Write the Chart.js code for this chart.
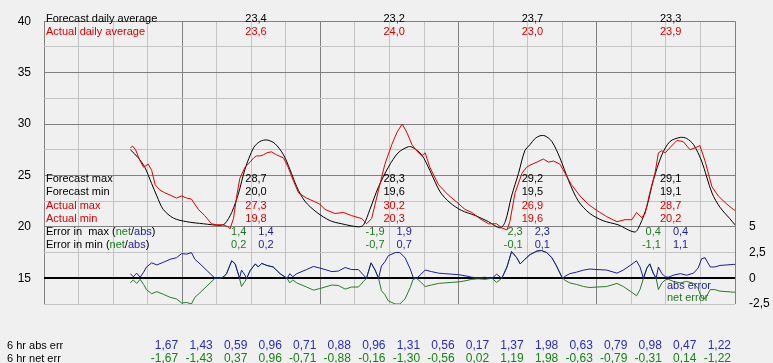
<!DOCTYPE html>
<html>
<head>
<meta charset="utf-8">
<script src="https://cdn.jsdelivr.net/npm/chart.js@4.4.1/dist/chart.umd.min.js"></script>
<style>
    body { margin: 0; background: #f0f0f0; }
    canvas { display: block; }
</style>
</head>
<body>
<canvas id="chart" width="773" height="363"></canvas>
<script>
// Forecast vs actual temperature, hours from start of day 1
const forecastHours = [15, 16.4, 17.5, 18.7, 19.6, 20.7, 22.5, 24.8, 27.7, 30.6, 31.4, 32.6, 33.8, 34.9, 36.4, 37.5, 38.7, 40.1, 41.6, 42.7, 43.9, 45.3, 47.4, 49.7,
    51.7, 54.6, 55.5, 56.6, 58.1, 59.8, 61.5, 63.3, 64.1, 65.6, 67, 68.8, 70.5, 72.5, 74.9, 77.2, 79.2, 80.1, 81.2, 82.4, 83.5, 84.4,
    85.3, 86.1, 87, 88.2, 89.6, 91.1, 92.8, 94.8, 97.1, 99.7, 102.6, 103.5, 104.7, 105.8, 107.3, 108.7, 110.5, 111.6, 112.8, 114.2, 116, 117.4, 119.1, 120];
const forecastTemps = [27.5, 26.7, 25.8, 24.2, 23.0, 21.7, 20.85, 20.5, 20.3, 20.15, 20.3, 21.4, 23.3, 25.6, 27.7, 28.3, 28.45, 28.1, 27.0, 25.6, 23.9, 22.5, 21.4, 20.6,
    20.3, 20.0, 20.2, 21.7, 23.9, 25.8, 27.2, 27.8, 27.7, 27.0, 25.5, 23.4, 22.35, 21.6, 21.1, 20.5, 19.9, 20.5, 23.0, 25.2, 27.4, 28.0,
    28.6, 28.85, 28.85, 28.3, 26.7, 24.5, 22.5, 21.3, 20.6, 20.2, 19.5, 20.2, 22.0, 24.5, 27.0, 28.3, 28.7, 28.6, 28.0, 26.4, 23.3, 21.9, 20.8, 20.2];

const actualHours = [15, 15.4, 15.9, 16.7, 17.3, 18.1, 18.7, 19.3, 20.1, 21, 21.9, 23, 23.9, 24.8, 25.6, 26.8, 27.9, 29.1, 30, 31.1, 32, 32.3, 32.9, 33.5, 34, 34.9,
    35.8, 36.4, 36.9, 37.5, 38.1, 38.7, 39.5, 40.4, 41.6, 42.4, 43.3, 44.2, 45.6, 46.8, 47.9, 48.8, 50.5, 52, 53.4, 55.2, 56, 56.9, 58.1, 59.2,
    60.4, 61.3, 62.2, 63, 63.9, 64.7, 65.6, 66.2, 67, 68.5, 70.2, 71.7, 73.1, 74.3, 75.7, 77.2, 78.6, 79.5, 80.4, 80.9, 81.8, 83, 83.8, 84.4,
    85.6, 86.7, 87.6, 88.5, 89.6, 90.5, 91.6, 93.1, 94.5, 96, 97.7, 99.5, 100.9, 102.1, 102.9, 103.8, 104.4, 105.2, 106.1, 106.7, 107.3, 107.9,
    108.7, 109.9, 111, 112.2, 113.1, 113.9, 114.8, 116, 117.1, 118.6, 119.7, 120];
const actualTemps = [27.7, 27.85, 27.5, 26.4, 25.8, 26.1, 25.5, 24.1, 23.6, 23.3, 23.1, 22.8, 23.0, 22.8, 22.7, 21.7, 21.1, 20.3, 20.2, 20.2, 20.0, 19.8, 20.8, 23.1, 24.7, 25.8,
    26.3, 26.7, 26.9, 26.9, 27.0, 27.2, 27.3, 27.0, 26.7, 25.8, 24.5, 23.3, 22.8, 22.5, 22.2, 21.7, 21.3, 21.4, 21.1, 20.8, 20.3, 20.8, 23.6, 26.1,
    28.0, 29.2, 30.0, 29.2, 28.0, 27.4, 26.9, 27.2, 25.8, 24.1, 23.1, 22.4, 21.7, 21.4, 20.8, 20.3, 20.3, 19.9, 19.7, 20.5, 23.3, 25.2, 25.8, 26.0,
    26.3, 26.6, 26.3, 26.4, 26.1, 25.2, 24.1, 23.0, 22.2, 21.6, 21.0, 20.5, 20.7, 20.7, 21.4, 20.9, 21.3, 23.3, 25.2, 27.2, 27.4, 27.2,
    27.7, 28.4, 28.3, 27.5, 27.7, 27.9, 26.4, 23.9, 23.0, 22.2, 21.7, 21.6];

// Error curves (right axis)
const errHours = [15, 15.5, 16.1, 16.7, 17.3, 17.8, 18.7, 19.6, 20.7, 21.9, 23, 23.9, 24.8, 25.6, 26.2, 27.1, 28.3, 29.7, 30.6, 31.2, 31.7, 32.6, 33.2, 33.8, 33.95, 34.3,
    34.9, 35.2, 35.8, 36.7, 37.2, 37.8, 38.7, 39.8, 41, 42.2, 42.7, 43.2, 43.9, 45.6, 46.8, 47.9, 48.8, 50, 51.1, 52.3, 53.4, 54.6, 55.5, 56, 56.8,
    57.5, 58.1, 58.6, 59.2, 59.8, 61, 61.8, 62.7, 63.6, 64.1, 64.7, 65.3, 66.2, 67.3, 68.5, 69.6, 70.8, 72, 73.1, 74.3, 75.4, 76.6, 77.8, 78.6, 79.5,
    80.4, 81.2, 82.1, 82.7, 83.5, 84.4, 85.6, 86.4, 87.3, 88.2, 89, 89.9, 90.1, 90.5, 91.3, 92.5, 93.7, 94.8, 96, 97.7, 99.5, 100.6, 101.8, 102.9,
    103.5, 104.1, 104.7, 105.2, 105.8, 106.3, 106.7, 107.3, 107.9, 108.4, 109.3, 110.5, 111.6, 112.8, 113.6, 114.2, 114.8, 115.7, 116.5, 117.4, 118.6, 119.7, 120];
const netErr = [-0.45, -0.15, -0.5, -0.1, -0.6, -1.1, -1.5, -1.3, -1.55, -1.85, -2.0, -2.4, -2.35, -2.5, -1.85, -1.4, -0.75, 0, 0, 0.15, 0.45, 1.7, 1.4, 0.3, 0, -0.8,
    -0.3, 0, 0.75, 1.4, 1.1, 1.45, 1.25, 1.1, 0.45, 0, -0.45, -0.15, -0.45, -0.85, -1.15, -1.0, -0.85, -0.65, -0.7, -1.05, -0.85, -0.85, -0.3, 0, 1.5,
    0.8, 0, -1.2, -1.6, -2.2, -2.5, -2.5, -2.0, -0.9, -0.1, 0, -0.3, -0.8, -0.65, -0.5, -0.45, -0.4, -0.35, -0.25, -0.1, -0.05, -0.1, 0, -0.4, 0,
    1.1, 2.6, 2.0, 1.4, 1.85, 2.3, 2.65, 2.7, 2.5, 2.0, 1.2, 0.15, 0, -0.2, -0.45, -0.6, -0.8, -0.9, -0.85, -0.8, -0.5, -0.8, -1.25, -1.7,
    -1.1, 0, 1.0, 1.4, 0.5, 0, -1.1, -0.45, -0.15, -0.1, -0.3, -0.45, -0.3, -0.5, -1.0, -1.9, -2.0, -1.1, -1.1, -1.25, -1.3, -1.35, -1.35];
const absErr = [0.45, 0.15, 0.5, 0.1, 0.6, 1.1, 1.5, 1.3, 1.55, 1.85, 2.0, 2.4, 2.35, 2.5, 1.85, 1.4, 0.75, 0, 0, 0.15, 0.45, 1.7, 1.4, 0.3, 0, 0.8,
    0.3, 0, 0.75, 1.4, 1.1, 1.45, 1.25, 1.1, 0.45, 0, 0.45, 0.15, 0.45, 0.85, 1.15, 1.0, 0.85, 0.65, 0.7, 1.05, 0.85, 0.85, 0.3, 0, 1.5,
    0.8, 0, 1.2, 1.6, 2.2, 2.5, 2.5, 2.0, 0.9, 0.1, 0, 0.3, 0.8, 0.65, 0.5, 0.45, 0.4, 0.35, 0.25, 0.1, 0.05, 0.1, 0, 0.4, 0,
    1.1, 2.6, 2.0, 1.4, 1.85, 2.3, 2.65, 2.7, 2.5, 2.0, 1.2, 0.15, 0, 0.2, 0.45, 0.6, 0.8, 0.9, 0.85, 0.8, 0.5, 0.8, 1.25, 1.7,
    1.1, 0, 1.0, 1.4, 0.5, 0, 1.1, 0.45, 0.15, 0.1, 0.3, 0.45, 0.3, 0.5, 1.0, 1.9, 2.0, 1.1, 1.1, 1.25, 1.3, 1.35, 1.35];

// Daily summary (one column per day, placed at noon)
const dayNoon = [36, 60, 84, 108];
const forecastAvg = [23.4, 23.2, 23.7, 23.3];
const actualAvg = [23.6, 24.0, 23.0, 23.9];
const forecastMax = [28.7, 28.3, 29.2, 29.1];
const forecastMin = [20.0, 19.6, 19.5, 19.1];
const actualMax = [27.3, 30.2, 26.9, 28.7];
const actualMin = [19.8, 20.3, 19.6, 20.2];
const maxErrNet = [1.4, -1.9, 2.3, 0.4];
const maxErrAbs = [1.4, 1.9, 2.3, 0.4];
const minErrNet = [0.2, -0.7, -0.1, -1.1];
const minErrAbs = [0.2, 0.7, 0.1, 1.1];

// 6 hour error table
const sixHourEnds = [24, 30, 36, 42, 48, 54, 60, 66, 72, 78, 84, 90, 96, 102, 108, 114, 120];
const sixHourAbs = [1.67, 1.43, 0.59, 0.96, 0.71, 0.88, 0.96, 1.31, 0.56, 0.17, 1.37, 1.98, 0.63, 0.79, 0.98, 0.47, 1.22];
const sixHourNet = [-1.67, -1.43, 0.37, 0.96, -0.71, -0.88, -0.16, -1.30, -0.56, 0.02, 1.19, 1.98, -0.63, -0.79, -0.31, 0.14, -1.22];

const RED = '#d80000';
const BLUE = '#1c1ca8';
const GREEN = '#1e7a1e';
const FONT = '"Liberation Sans", Arial, sans-serif';

function fmt(v, d) {
    return v.toFixed(d).replace('.', ',');
}

function points(xs, ys) {
    return xs.map((x, i) => ({ x: x, y: ys[i] }));
}

// draws a string made of coloured pieces
function drawParts(ctx, parts, x, y) {
    parts.forEach(p => {
        ctx.fillStyle = p[1];
        ctx.fillText(p[0], x, y);
        x += ctx.measureText(p[0]).width;
    });
}

const textPlugin = {
    id: 'textPlugin',
    afterDatasetsDraw(chart) {
        const ctx = chart.ctx;
        const xs = chart.scales.x;
        ctx.save();
        ctx.textBaseline = 'alphabetic';
        ctx.font = '11px ' + FONT;

        // header rows
        ctx.textAlign = 'left';
        ctx.fillStyle = '#000';
        ctx.fillText('Forecast daily average', 46, 21.5);
        ctx.fillStyle = RED;
        ctx.fillText('Actual daily average', 46, 34.5);

        // daily block labels
        const rows = [182, 195, 208.5, 221.5, 234.5, 247.5];
        ctx.fillStyle = '#000';
        ctx.fillText('Forecast max', 46, rows[0]);
        ctx.fillText('Forecast min', 46, rows[1]);
        ctx.fillStyle = RED;
        ctx.fillText('Actual max', 46, rows[2]);
        ctx.fillText('Actual min', 46, rows[3]);
        drawParts(ctx, [['Error in  max (', '#000'], ['net', GREEN], ['/', '#000'], ['abs', BLUE], [')', '#000']], 46, rows[4]);
        drawParts(ctx, [['Error in min (', '#000'], ['net', GREEN], ['/', '#000'], ['abs', BLUE], [')', '#000']], 46, rows[5]);

        dayNoon.forEach((h, i) => {
            const px = xs.getPixelForValue(h);
            ctx.textAlign = 'left';
            ctx.fillStyle = '#000';
            ctx.fillText(fmt(forecastAvg[i], 1), px - 6, 21.5);
            ctx.fillText(fmt(forecastMax[i], 1), px - 6, rows[0]);
            ctx.fillText(fmt(forecastMin[i], 1), px - 6, rows[1]);
            ctx.fillStyle = RED;
            ctx.fillText(fmt(actualAvg[i], 1), px - 6, 34.5);
            ctx.fillText(fmt(actualMax[i], 1), px - 6, rows[2]);
            ctx.fillText(fmt(actualMin[i], 1), px - 6, rows[3]);
            ctx.fillStyle = BLUE;
            ctx.fillText(fmt(maxErrAbs[i], 1), px + 7, rows[4]);
            ctx.fillText(fmt(minErrAbs[i], 1), px + 7, rows[5]);
            ctx.textAlign = 'right';
            ctx.fillStyle = GREEN;
            ctx.fillText(fmt(maxErrNet[i], 1), px - 5, rows[4]);
            ctx.fillText(fmt(minErrNet[i], 1), px - 5, rows[5]);
        });

        // error legend
        ctx.textAlign = 'left';
        ctx.fillStyle = BLUE;
        ctx.fillText('abs error', xs.getPixelForValue(108) + 1, 288.5);
        ctx.fillStyle = GREEN;
        ctx.fillText('net error', xs.getPixelForValue(108) + 1, 301);

        // 6 hr table below the plot
        ctx.fillStyle = '#000';
        ctx.fillText('6 hr abs err', 7, 348.5);
        ctx.fillText('6 hr net err', 7, 361.5);
        ctx.font = '12px ' + FONT;
        ctx.textAlign = 'right';
        sixHourEnds.forEach((h, i) => {
            const px = xs.getPixelForValue(h) - 4;
            ctx.fillStyle = '#2a2ac4';
            ctx.fillText(fmt(sixHourAbs[i], 2), px, 348.5);
            ctx.fillStyle = '#1a801a';
            ctx.fillText(fmt(sixHourNet[i], 2), px, 361.5);
        });
        ctx.restore();
    }
};

const ctx = document.getElementById('chart').getContext('2d');
new Chart(ctx, {
    type: 'line',
    data: {
        datasets: [
            { data: points(actualHours, actualTemps), borderColor: '#e00000', borderWidth: 1, pointRadius: 0, yAxisID: 'y' },
            { data: points(forecastHours, forecastTemps), borderColor: '#000000', borderWidth: 1, pointRadius: 0, tension: 0.3, yAxisID: 'y' },
            { data: points(errHours, absErr), borderColor: '#1a1aa0', borderWidth: 1, pointRadius: 0, yAxisID: 'y2' },
            { data: points(errHours, netErr), borderColor: '#2a7a2a', borderWidth: 1, pointRadius: 0, yAxisID: 'y2' }
        ]
    },
    options: {
        responsive: false,
        animation: false,
        events: [],
        layout: { padding: { top: 12, left: 0, right: 0, bottom: 0 } },
        plugins: {
            legend: { display: false },
            tooltip: { enabled: false }
        },
        scales: {
            x: {
                type: 'linear',
                min: 0,
                max: 120,
                ticks: { stepSize: 6, display: false },
                grid: {
                    drawTicks: false,
                    color: (c) => (c.tick && c.tick.value % 24 === 0) ? '#808080' : '#c4c4c4'
                },
                border: { display: false },
                afterFit: (s) => { s.height = 59; }
            },
            y: {
                position: 'left',
                min: 12.5,
                max: 40,
                ticks: {
                    stepSize: 2.5,
                    padding: 13,
                    color: '#000',
                    font: { family: FONT, size: 12 },
                    callback: (v) => (v % 5 === 0) ? String(v) : ''
                },
                grid: {
                    drawTicks: false,
                    color: (c) => {
                        if (!c.tick) return '#c4c4c4';
                        if (c.tick.value === 15) return '#000000';
                        return c.tick.value % 5 === 0 ? '#808080' : '#c4c4c4';
                    },
                    lineWidth: (c) => (c.tick && c.tick.value === 15) ? 2 : 1
                },
                border: { display: false },
                afterFit: (s) => { s.width = 44; }
            },
            y2: {
                position: 'right',
                min: -2.5,
                max: 25,
                ticks: {
                    stepSize: 2.5,
                    padding: 14,
                    color: '#000',
                    font: { family: FONT, size: 12 },
                    callback: (v) => (v <= 5) ? fmt(v, v % 1 === 0 ? 0 : 1) : ''
                },
                grid: { display: false, drawTicks: false },
                border: { display: false },
                afterFit: (s) => { s.width = 38; }
            }
        }
    },
    plugins: [textPlugin]
});
</script>
</body>
</html>
